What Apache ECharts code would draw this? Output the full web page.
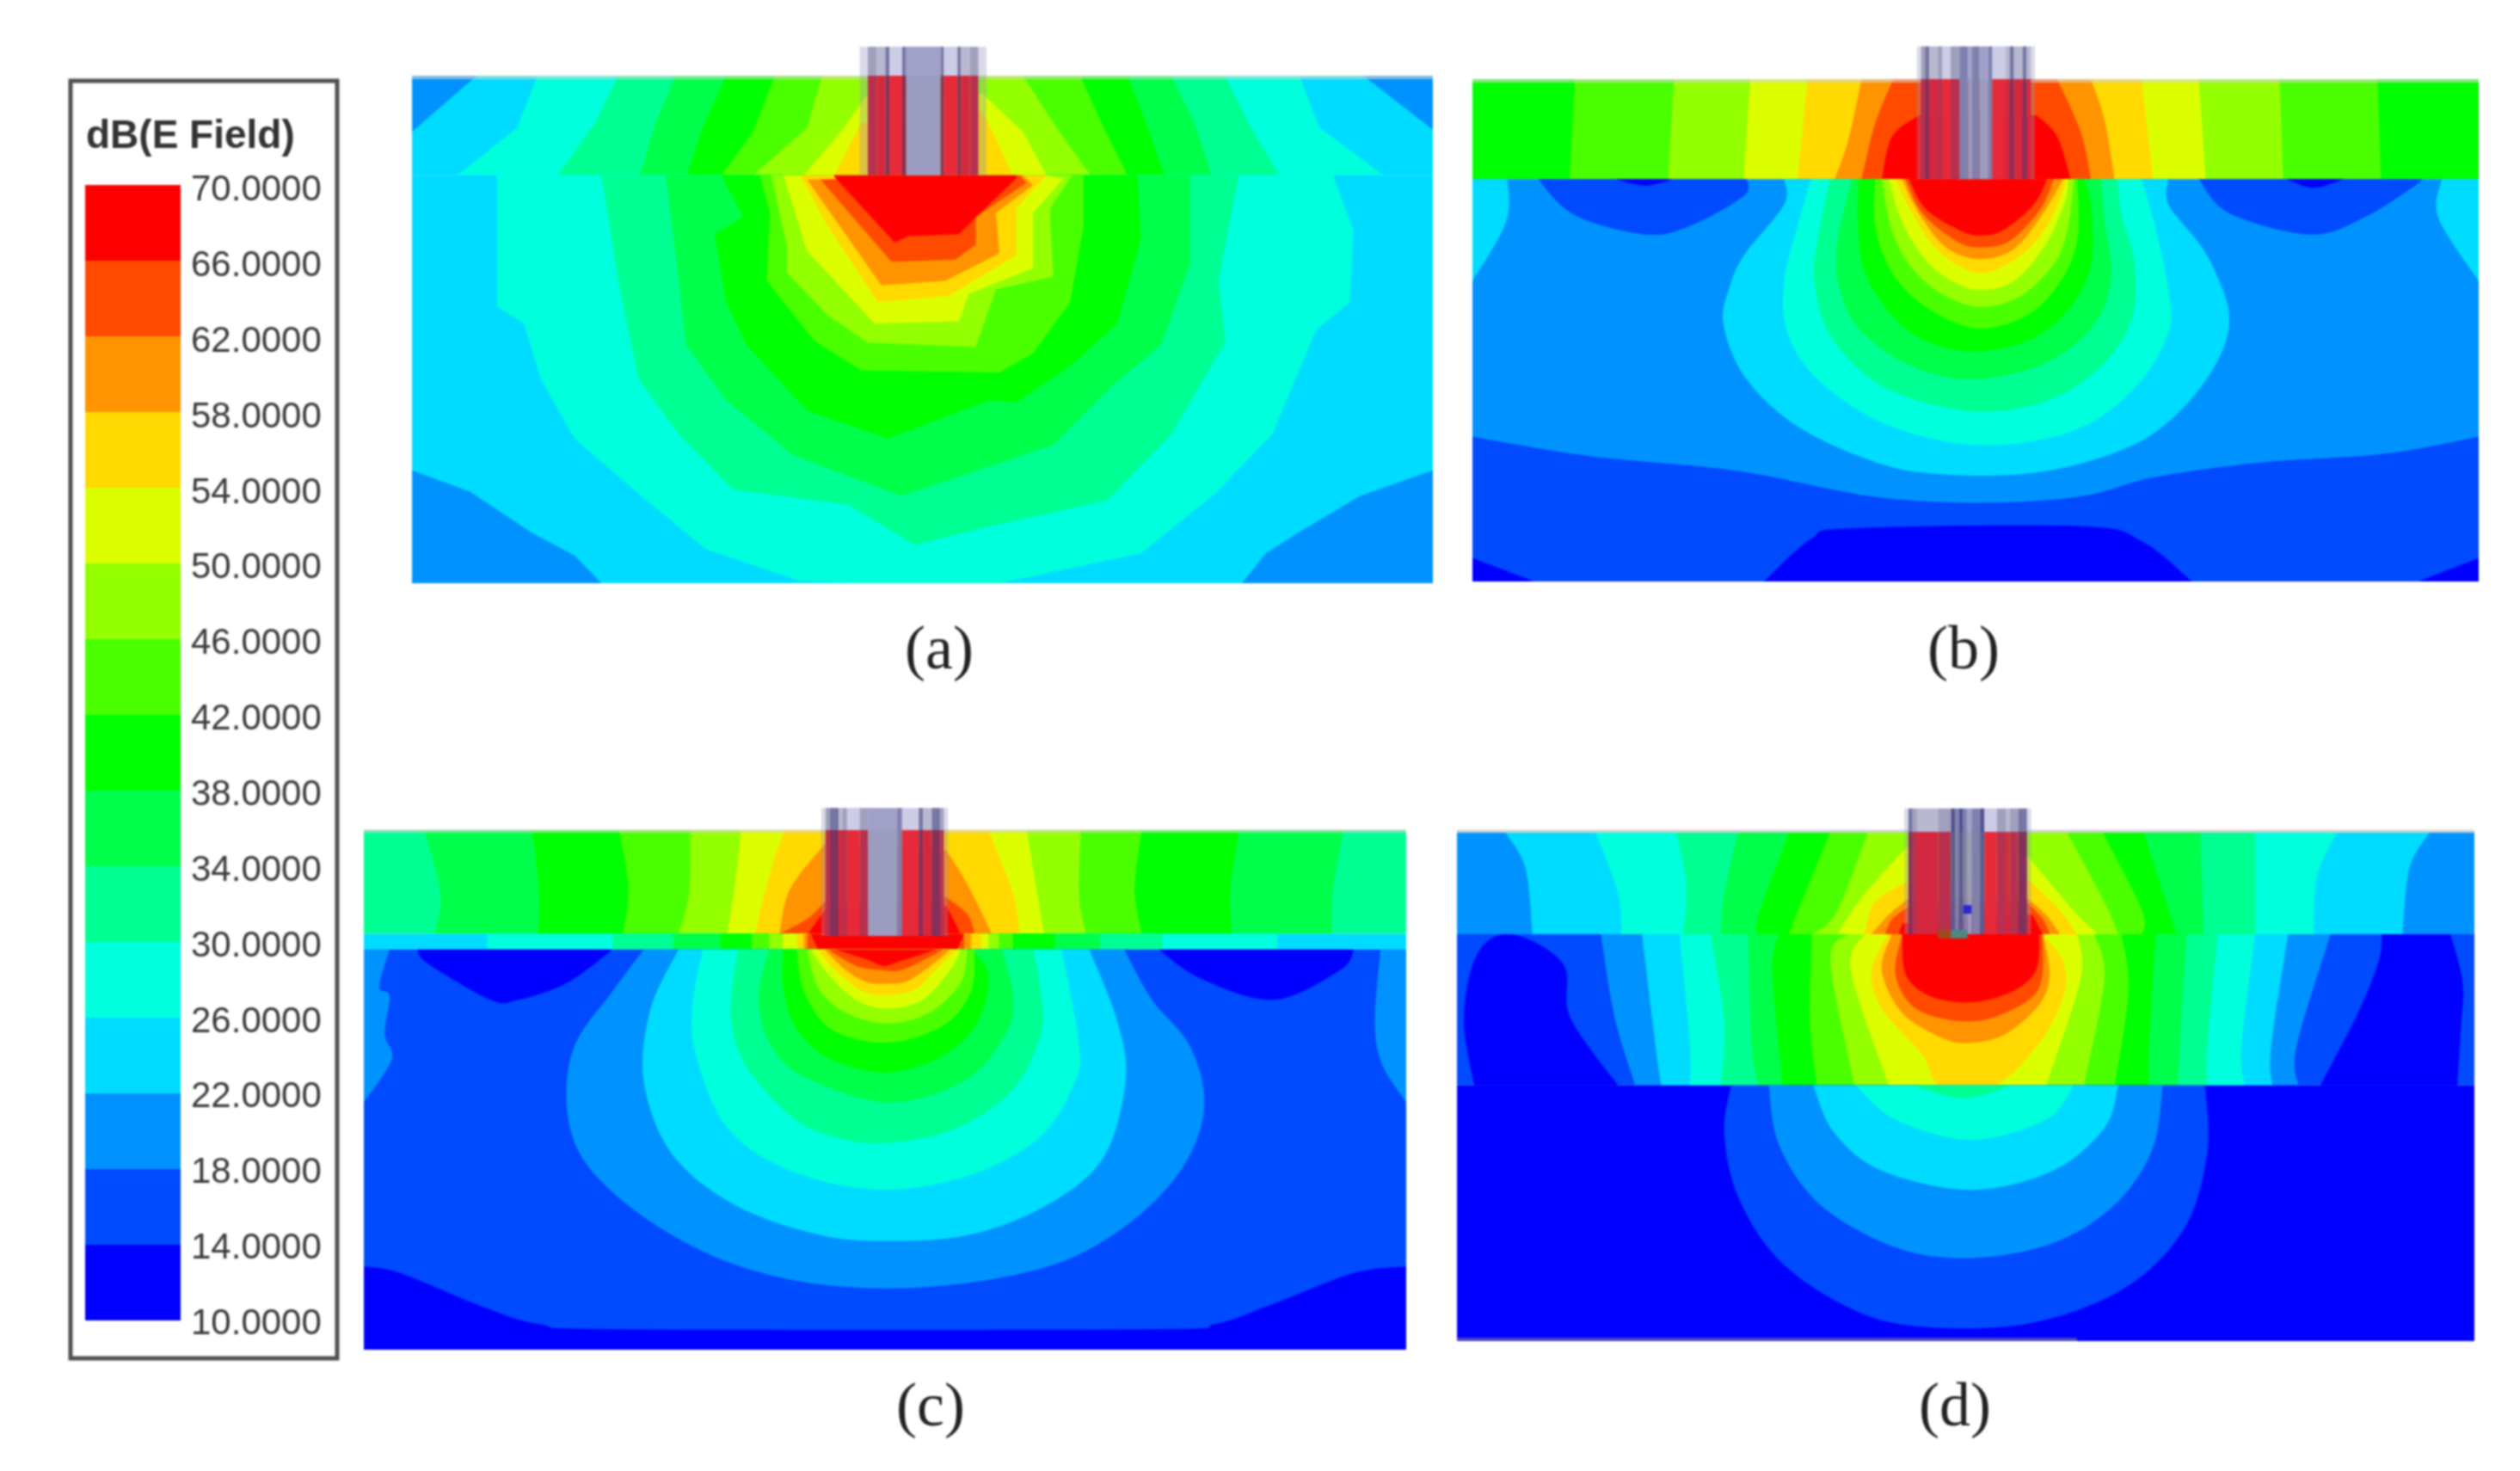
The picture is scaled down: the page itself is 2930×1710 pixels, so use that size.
<!DOCTYPE html>
<html>
<head>
<meta charset="utf-8">
<title>dB(E Field)</title>
<script src="https://cdn.jsdelivr.net/npm/echarts@6/dist/echarts.min.js"></script>
<style>
  html, body { margin: 0; padding: 0; background: #fff; }
  #chart { width: 2930px; height: 1710px; filter: blur(1.2px); }
</style>
</head>
<body>
<div id="chart"></div>
<script>
// band lower edge in dB -> colour, same steps as the scale bar
const legendLevels = [10, 14, 18, 22, 26, 30, 34, 38, 42, 46, 50, 54, 58, 62, 66]
const levelColors = ['#0000ff', '#004aff', '#0093ff', '#00dcff', '#00ffdc', '#00ff93', '#00ff4a', '#00ff00',
  '#4aff00', '#93ff00', '#dcff00', '#ffd900', '#ff9300', '#ff4a00', '#ff0000']
const panelLabels = ['(a)', '(b)', '(c)', '(d)']

// contour bands, painted low to high: [level, boundary, second boundary]
// boundaries are flat x,y lists in field units, second one runs the same way as the first
const aTop = [
  [22, [24,118,1538,118], [24,352,1538,352]],
  [18, [24,118,120,118,24,250]],
  [18, [1435,118,1538,118,1538,245]],
  [26, [210,118,180,240,92,352], [1340,118,1370,240,1465,352]],
  [30, [330,118,295,230,240,352], [1230,118,1265,230,1310,352]],
  [34, [415,118,385,230,362,352], [1150,118,1185,230,1210,352]],
  [38, [490,118,455,240,432,352], [1085,118,1115,240,1140,352]],
  [42, [562,118,530,250,483,352], [1015,118,1050,240,1085,352]],
  [46, [632,118,610,240,530,352], [930,118,980,240,1030,352]],
  [50, [700,160,665,240,605,352], [870,160,930,250,965,352]],
  [54, [690,230,650,352], [870,200,915,352]]
]
const aBottom = [
  [22, [24,352,1538,352], [24,1310,1538,1310]],
  [18, [24,1045,110,1095,200,1190,265,1245,305,1310,24,1310]],
  [18, [1538,1045,1430,1105,1340,1190,1290,1240,1255,1310,1538,1310]],
  [26, [150,352,150,660,190,700,215,830,265,970,360,1100,460,1230,600,1305,680,1310,895,1310,1105,1240,1215,1100,1300,960,1365,715,1415,650,1420,480,1390,352]],
  [30, [305,352,330,600,360,830,420,960,500,1090,670,1125,770,1220,870,1180,1055,1115,1150,960,1230,745,1220,600,1250,352]],
  [34, [400,352,420,600,430,750,490,880,590,1010,750,1105,975,985,1060,850,1135,750,1178,560,1178,352]],
  [38, [483,352,515,450,473,490,490,650,520,750,610,905,730,970,880,880,920,885,1000,800,1070,700,1105,500,1100,352]],
  [42, [540,352,555,440,550,600,620,740,690,810,895,815,945,770,1000,650,1020,470,1020,352]],
  [46, [557,352,580,520,580,580,640,680,700,745,860,755,890,620,975,590,970,430,1003,352]],
  [50, [575,352,610,530,710,700,835,695,850,630,945,570,945,440,990,360,965,352]],
  [54, [600,352,640,470,715,650,820,635,920,540,920,430,965,352]],
  [58, [610,362,720,610,815,600,895,535,890,440,945,375,930,352]],
  [62, [630,362,735,555,830,550,860,515,860,450,935,370,925,352]],
  [66, [650,355,740,510,760,495,835,490,880,420,920,360,920,352,650,352]]
]

const bTop = [
  [38, [28,125,1520,125], [28,360,1520,360]],
  [42, [180,125,172,360], [1370,125,1375,360]],
  [46, [327,125,318,360], [1225,125,1230,360]],
  [50, [440,125,430,360], [1105,125,1115,360]],
  [54, [525,125,510,360], [1020,125,1037,360]],
  [58, [605,125,585,270,565,360], [945,125,965,220,980,360]],
  [62, [652,125,625,230,605,360], [895,125,930,250,945,360]],
  [66, [690,210,650,260,635,360], [865,210,895,260,915,360]]
]
const bBottom = [
  [18, [28,360,1520,360], [28,1305,1520,1305]],
  [14, [28,965,200,1010,420,1045,620,1105,780,1120,930,1105,1040,1060,1200,1025,1380,1005,1520,965], [28,1305,1520,1305]],
  [10, [460,1305,530,1205,590,1180,930,1175,1020,1210,1095,1305]],
  [10, [28,1250,120,1305], [28,1305,28,1305]],
  [10, [1520,1250,1430,1305], [1520,1305,1520,1305]],
  [14, [125,360,180,445,285,490,350,470,430,400,435,360]],
  [14, [1105,360,1150,440,1270,490,1350,450,1430,370,1430,360]],
  [10, [240,360,285,375,325,360]],
  [10, [1235,360,1275,380,1320,360]],
  [22, [80,360,78,460,28,600], [28,360,28,600]],
  [22, [1465,360,1460,450,1520,600], [1520,360,1520,600]],
  [22, [490,360,490,420,430,540,408,620,400,700,430,820,500,930,600,1010,700,1050,860,1050,1000,990,1080,900,1135,780,1150,680,1130,580,1105,510,1060,420,1060,360]],
  [26, [530,360,510,470,490,600,495,720,540,830,640,935,780,985,920,950,1010,850,1060,720,1060,620,1040,470,1020,360]],
  [30, [558,360,540,500,535,600,560,730,640,850,770,905,880,880,960,800,1005,690,1010,560,990,440,985,360]],
  [34, [590,360,570,500,570,600,600,710,680,800,775,830,880,790,950,700,975,590,965,450,960,360]],
  [38, [600,360,600,480,610,580,650,680,700,740,770,765,850,740,910,670,945,560,945,420,935,360]],
  [42, [625,360,625,470,650,580,700,660,775,710,850,680,900,600,925,500,925,360]],
  [46, [635,360,650,480,680,570,725,630,780,660,840,635,890,560,910,480,920,360]],
  [50, [645,360,665,460,700,550,740,600,780,620,830,600,875,520,905,420,912,360]],
  [54, [655,360,680,440,720,530,780,580,840,540,880,470,905,380,905,360]],
  [58, [665,360,690,440,730,520,780,548,830,525,870,450,900,370,900,360]],
  [62, [670,360,695,440,745,505,780,520,825,505,870,430,890,360]],
  [66, [675,360,700,430,750,480,780,492,815,480,860,420,880,360]]
]

const cTop = [
  [30, [28,92,1525,92], [28,335,1525,335]],
  [34, [115,92,138,240,130,335], [1435,92,1420,230,1418,335]],
  [38, [270,92,280,240,278,335], [1285,92,1272,240,1275,335]],
  [42, [395,92,408,230,400,335], [1145,92,1135,230,1145,335]],
  [46, [497,92,495,240,480,335], [1058,92,1055,240,1065,335]],
  [50, [570,92,560,230,550,335], [980,92,995,240,1005,335]],
  [54, [632,92,610,200,590,335], [925,92,960,240,970,335]],
  [58, [690,125,640,230,625,335], [865,140,895,220,930,335]],
  [62, [690,260,665,300,625,335], [865,250,895,290,905,335]],
  [66, [690,280,668,330,665,335], [865,270,885,335]]
]
const cMiddle = [
  [22, [28,335,1525,335], [28,372,1525,372]],
  [26, [205,335,205,372], [1340,335,1340,372]],
  [30, [385,335,385,372], [1175,335,1175,372]],
  [34, [472,335,472,372], [1085,335,1085,372]],
  [38, [540,335,540,372], [1020,335,1020,372]],
  [42, [585,335,585,372], [960,335,960,372]],
  [46, [610,335,610,372], [940,335,940,372]],
  [50, [630,335,630,372], [925,335,925,372]],
  [54, [650,335,650,372], [915,335,915,372]],
  [58, [660,335,660,372], [900,335,900,372]],
  [62, [665,335,665,372], [890,335,890,372]],
  [66, [670,335,680,372], [890,335,880,372]]
]
const cBottom = [
  [14, [28,372,1525,372], [28,1310,1525,1310]],
  [10, [28,1115,80,1130,200,1210,280,1250,400,1262,1150,1262,1250,1250,1330,1205,1450,1130,1525,1115], [28,1310,1525,1310]],
  [10, [105,372,120,405,210,490,250,490,320,450,385,372]],
  [10, [1170,372,1230,440,1335,490,1430,420,1450,372]],
  [18, [65,372,50,460,65,480,58,570,68,630,28,730], [28,372,28,730]],
  [18, [1488,372,1480,540,1490,640,1525,730], [1525,372,1525,730]],
  [18, [430,372,385,470,330,600,320,750,350,880,440,1010,560,1110,700,1160,860,1160,1020,1110,1130,1010,1205,880,1235,740,1215,600,1160,490,1120,372]],
  [22, [480,372,440,510,430,680,470,850,560,970,680,1040,780,1055,900,1040,1010,970,1090,860,1122,680,1110,540,1070,372]],
  [26, [515,372,500,500,505,620,550,790,640,890,770,935,900,900,1000,810,1050,680,1055,590,1030,372]],
  [30, [565,372,555,520,575,640,640,760,700,810,780,825,880,790,960,700,1000,570,1000,470,990,372]],
  [34, [610,372,595,480,610,590,660,670,780,730,890,680,950,570,960,480,945,372]],
  [38, [630,372,630,460,650,560,700,630,780,660,860,620,910,540,925,430,900,372]],
  [42, [650,372,660,470,700,560,780,590,860,550,900,470,905,372]],
  [46, [665,372,680,460,720,520,780,545,840,520,885,450,895,372]],
  [50, [670,372,695,430,735,490,780,510,830,490,870,420,885,372]],
  [54, [680,372,705,420,745,470,780,478,820,465,855,410,880,372]],
  [58, [690,372,720,420,750,448,780,452,810,445,850,400,870,372]],
  [62, [695,372,735,410,770,420,800,420,840,390,860,372]],
  [66, [705,372,750,395,775,410,800,398,850,372]]
]

const dTop = [
  [18, [30,95,1515,95], [30,335,1515,335]],
  [22, [100,95,130,180,140,335], [1450,95,1420,180,1410,335]],
  [26, [232,95,265,240,270,335], [1315,95,1285,200,1280,335]],
  [30, [350,95,365,220,360,335], [1195,95,1195,335]],
  [34, [440,95,420,240,415,335], [1115,95,1120,335]],
  [38, [515,95,470,290,468,335], [1032,95,1080,335]],
  [42, [575,95,525,290,515,335], [972,95,1030,280,1030,335]],
  [46, [630,95,585,280,550,335], [920,95,975,260,995,335]],
  [50, [690,125,625,240,585,335], [862,150,930,280,965,335]],
  [54, [690,210,640,260,625,335], [862,205,905,270,935,335]],
  [58, [690,250,660,290,635,335], [862,250,890,290,910,335]],
  [62, [690,270,665,300,655,335], [862,260,885,300,895,335]],
  [66, [680,310,675,335], [870,290,885,335]]
]
const dMiddle = [
  [14, [30,335,1515,335], [30,690,1515,690]],
  [10, [55,690,40,530,60,380,110,335,185,405,195,530,265,690]],
  [10, [1290,690,1345,520,1375,400,1380,335,1380,335,1480,335,1480,335,1498,450,1495,560,1490,690]],
  [18, [240,335,260,530,290,690], [1305,335,1255,600,1258,690]],
  [22, [300,335,320,600,328,690], [1243,335,1218,600,1220,690]],
  [26, [355,335,370,600,370,690], [1195,335,1175,600,1180,690]],
  [30, [400,335,420,540,415,690], [1140,335,1125,600,1125,690]],
  [34, [455,335,460,600,470,690], [1095,335,1085,600,1082,690]],
  [38, [500,335,490,420,505,690], [1050,335,1040,600,1040,690]],
  [42, [548,335,545,540,555,690], [1000,335,1010,470,990,690]],
  [46, [600,335,575,400,610,690], [960,335,975,440,945,690]],
  [50, [625,335,605,420,660,690], [935,335,940,440,890,690]],
  [54, [660,335,635,420,650,510,710,620,735,690,815,690,880,590,915,480,915,400,885,335]],
  [58, [665,335,650,420,680,520,740,580,780,590,830,570,880,500,895,430,885,335]],
  [62, [680,335,670,430,700,510,770,540,830,520,880,460,885,335]],
  [66, [680,335,685,430,720,480,780,495,840,470,875,420,880,335]]
]
const dBottom = [
  [10, [30,690,1515,690], [30,1290,1515,1290]],
  [14, [430,690,420,800,440,950,500,1100,600,1210,700,1255,860,1250,1000,1170,1090,1030,1125,850,1122,690]],
  [18, [485,690,500,830,560,970,670,1070,780,1095,900,1060,990,970,1045,840,1060,690]],
  [22, [550,690,580,800,650,890,780,935,900,890,975,790,995,690]],
  [26, [612,690,670,770,780,818,890,770,930,690]],
  [30, [695,690,770,720,840,690]]
]

// probe stripes: [from x, to x, kind], kinds index the two colour lists below
const probeA = [[688,700,0],[700,713,1],[713,726,5],[726,732,3],[732,751,2],[751,757,3],[757,808,4],[808,813,3],[813,833,2],[833,838,3],[838,851,5],[851,864,1],[864,876,0]]
const probeB = [[687,693,0],[693,699,1],[699,705.5,3],[705.5,718,5],[718,725,1],[725,737,2],[737,750,1],[750,763,6],[763,769,4],[769,780,6],[780,793,4],[793,799,6],[799,818,2],[818,824.5,5],[824.5,831,3],[831,843.6,5],[843.6,850,3],[850,856,5],[856,862,0]]
const probeC = [[685,691,0],[691,697.4,1],[697.4,710,3],[710,716,5],[716,722,1],[722,740,2],[740,752,1],[752,794,4],[794,801,6],[801,825,2],[825,831,3],[831,843.6,5],[843.6,856,3],[856,861,1],[861,867,0]]
const probeD = [[683,689,0],[689,695,3],[695,701.5,1],[701.5,732,5],[732,751,1],[751,757,7],[757,762.6,6],[762.6,769,7],[769,775,6],[775,781,4],[781,793.5,6],[793.5,800,7],[800,818,2],[818,831,1],[831,836.6,5],[836.6,849,1],[849,862,3],[862,868,0]]
const stripeAbove = ['rgba(150,150,190,0.35)', '#a0a0bc', '#ccccE6', '#7676a4', '#a0a0c8', '#b8b8d0', '#8080b0', '#505090']
const stripeBelow = ['rgba(150,150,190,0.35)', '#b83050', '#e62a3a', '#84305c', '#9c9cc0', '#d42840', '#8080ac', '#5a5a96']

// soft edges of the field plots and the small marks inside probe d: [x0, x1, y0, y1, colour index]
const edgeColors = ['rgba(215,215,205,0.6)', 'rgba(205,210,205,0.9)', 'rgba(90,90,170,0.8)', '#2828d8', '#a04a20', '#4a8a80']
const edgesA = [[24,1538,118,126,0]]
const edgesB = [[28,1520,125,133,0]]
const edgesC = [[28,1525,90,98,0]]
const edgesD = [[30,1515,90,97,1],[30,935,1282,1290,2]]
const marksD = [[769,781,267,287,3],[732,751,325,345,4],[751,775,325,345,5]]

const panels = [
  { box: [479, 88, 1187, 590], x: [24, 1538], y: [118, 1310], smooth: false, probe: probeA, probeY: [50, 118, 352], edges: edgesA, marks: [],
    layers: [[118, 352, aTop], [352, 1310, aBottom]] },
  { box: [1712, 92, 1170, 584], x: [28, 1520], y: [125, 1305], smooth: true, probe: probeB, probeY: [48, 125, 360], edges: edgesB, marks: [],
    layers: [[125, 360, bTop], [360, 1305, bBottom]] },
  { box: [423, 965, 1212, 604], x: [28, 1525], y: [92, 1310], smooth: true, probe: probeC, probeY: [40, 92, 340], edges: edgesC, marks: [],
    layers: [[92, 335, cTop], [335, 372, cMiddle], [372, 1310, cBottom]] },
  { box: [1694, 967, 1183, 592], x: [30, 1515], y: [95, 1290], smooth: true, probe: probeD, probeY: [40, 95, 335], edges: edgesD, marks: marksD,
    layers: [[95, 335, dTop], [335, 690, dMiddle], [690, 1290, dBottom]] }
]

const toPairs = (flat) => {
  const out = []
  for (let i = 0; i < flat.length; i += 2) out.push([flat[i], flat[i + 1]])
  return out
}
// catmull-rom through the read points so the round contours stay round
const rounded = (pts) => {
  if (pts.length < 3) return pts
  const out = []
  for (let i = 0; i < pts.length - 1; i++) {
    const p0 = pts[Math.max(i - 1, 0)], p1 = pts[i], p2 = pts[i + 1], p3 = pts[Math.min(i + 2, pts.length - 1)]
    for (let s = 0; s < 10; s++) {
      const t = s / 10, t2 = t * t, t3 = t2 * t
      out.push([0, 1].map(k => 0.5 * (2 * p1[k] + (p2[k] - p0[k]) * t + (2 * p0[k] - 5 * p1[k] + 4 * p2[k] - p3[k]) * t2 + (3 * p1[k] - p0[k] - 3 * p2[k] + p3[k]) * t3)))
    }
  }
  out.push(pts[pts.length - 1])
  return out
}

const grids = [], xAxes = [], yAxes = [], series = []
panels.forEach((panel, i) => {
  grids.push({ left: panel.box[0], top: panel.box[1], width: panel.box[2], height: panel.box[3] })
  xAxes.push({ type: 'value', gridIndex: i, min: panel.x[0], max: panel.x[1], show: false })
  yAxes.push({ type: 'value', gridIndex: i, min: panel.y[0], max: panel.y[1], inverse: true, show: false })

  const bands = []
  panel.layers.forEach(([y0, y1, list]) => list.forEach(b => bands.push({ y0, y1, band: b })))
  series.push({
    type: 'custom',
    coordinateSystem: 'cartesian2d',
    xAxisIndex: i,
    yAxisIndex: i,
    clip: true,
    silent: true,
    data: bands.map((b, k) => [k]),
    renderItem: (params, api) => {
      const { y0, y1, band } = bands[params.dataIndex]
      const shape = panel.smooth ? rounded : (p) => p
      let pts = shape(toPairs(band[1]))
      if (band[2]) pts = pts.concat(shape(toPairs(band[2])).reverse())
      const clamped = pts.map(p => api.coord([
        Math.min(Math.max(p[0], panel.x[0]), panel.x[1]),
        Math.min(Math.max(p[1], y0), y1)
      ]))
      return {
        type: 'polygon',
        z2: params.dataIndex,
        shape: { points: clamped },
        style: { fill: levelColors[legendLevels.indexOf(band[0])], stroke: null }
      }
    }
  })
  // probe sits on top and pokes out above the field, so no clip here
  const stripes = []
  panel.edges.forEach(e => stripes.push([e[0], e[1], e[2], e[3], edgeColors[e[4]]]))
  panel.probe.forEach(s => {
    stripes.push([s[0], s[1], panel.probeY[0], panel.probeY[1], stripeAbove[s[2]]])
    stripes.push([s[0], s[1], panel.probeY[1], panel.probeY[2], stripeBelow[s[2]]])
  })
  panel.marks.forEach(e => stripes.push([e[0], e[1], e[2], e[3], edgeColors[e[4]]]))
  series.push({
    type: 'custom',
    coordinateSystem: 'cartesian2d',
    xAxisIndex: i,
    yAxisIndex: i,
    clip: false,
    silent: true,
    data: stripes.map((s, k) => [k]),
    renderItem: (params, api) => {
      const s = stripes[params.dataIndex]
      const a = api.coord([s[0], s[2]])
      const b = api.coord([s[1], s[3]])
      return {
        type: 'rect',
        z2: 1000 + params.dataIndex,
        shape: { x: a[0], y: a[1], width: b[0] - a[0], height: b[1] - a[1] },
        style: { fill: s[4] }
      }
    }
  })
})

// scale bar; the tick labels sit a little lower than the colour steps, so they get their own grid
grids.push({ left: 99, top: 215, width: 111, height: 1320 })
xAxes.push({ type: 'value', gridIndex: 4, min: 0, max: 1, show: false })
yAxes.push({ type: 'value', gridIndex: 4, min: 10, max: 70, interval: 4, show: false })
grids.push({ left: 99, top: 221.5, width: 111, height: 1318 })
xAxes.push({ type: 'value', gridIndex: 5, min: 0, max: 1, show: false })
yAxes.push({
  type: 'value',
  gridIndex: 5,
  position: 'right',
  min: 10,
  max: 70,
  interval: 4,
  splitLine: { show: false },
  axisLine: { show: false },
  axisTick: { show: false },
  axisLabel: {
    margin: 12,
    color: '#3a3a3a',
    fontSize: 42,
    fontFamily: 'Liberation Sans',
    formatter: (v) => v.toFixed(4)
  }
})
series.push({
  type: 'custom',
  coordinateSystem: 'cartesian2d',
  xAxisIndex: 4,
  yAxisIndex: 4,
  silent: true,
  data: legendLevels.map((v) => [0, v]),
  renderItem: (params, api) => {
    const lo = api.value(1)
    const a = api.coord([0, lo + 4])
    const b = api.coord([1, lo])
    return {
      type: 'rect',
      shape: { x: a[0], y: a[1], width: b[0] - a[0], height: b[1] - a[1] },
      style: { fill: levelColors[params.dataIndex] }
    }
  }
})

const labelSpots = [[1092, 758], [2283, 758], [1082, 1638], [2273, 1638]]

const chart = echarts.init(document.getElementById('chart'), null, { renderer: 'canvas' })
chart.setOption({
  backgroundColor: '#fff',
  animation: false,
  tooltip: { show: false },
  grid: grids,
  xAxis: xAxes,
  yAxis: yAxes,
  series,
  graphic: [
    { type: 'rect', shape: { x: 82, y: 94, width: 310, height: 1485 }, style: { fill: null, stroke: '#505050', lineWidth: 5 } },
    { type: 'text', x: 100, y: 159, style: { text: 'dB(E Field)', fill: '#333', font: 'bold 46px "Liberation Sans"', verticalAlign: 'middle' } }
  ].concat(panelLabels.map((t, i) => ({
    type: 'text',
    x: labelSpots[i][0],
    y: labelSpots[i][1],
    style: { text: t, fill: '#222', font: '72px "Liberation Serif"', align: 'center', verticalAlign: 'middle' }
  })))
})
</script>
</body>
</html>
